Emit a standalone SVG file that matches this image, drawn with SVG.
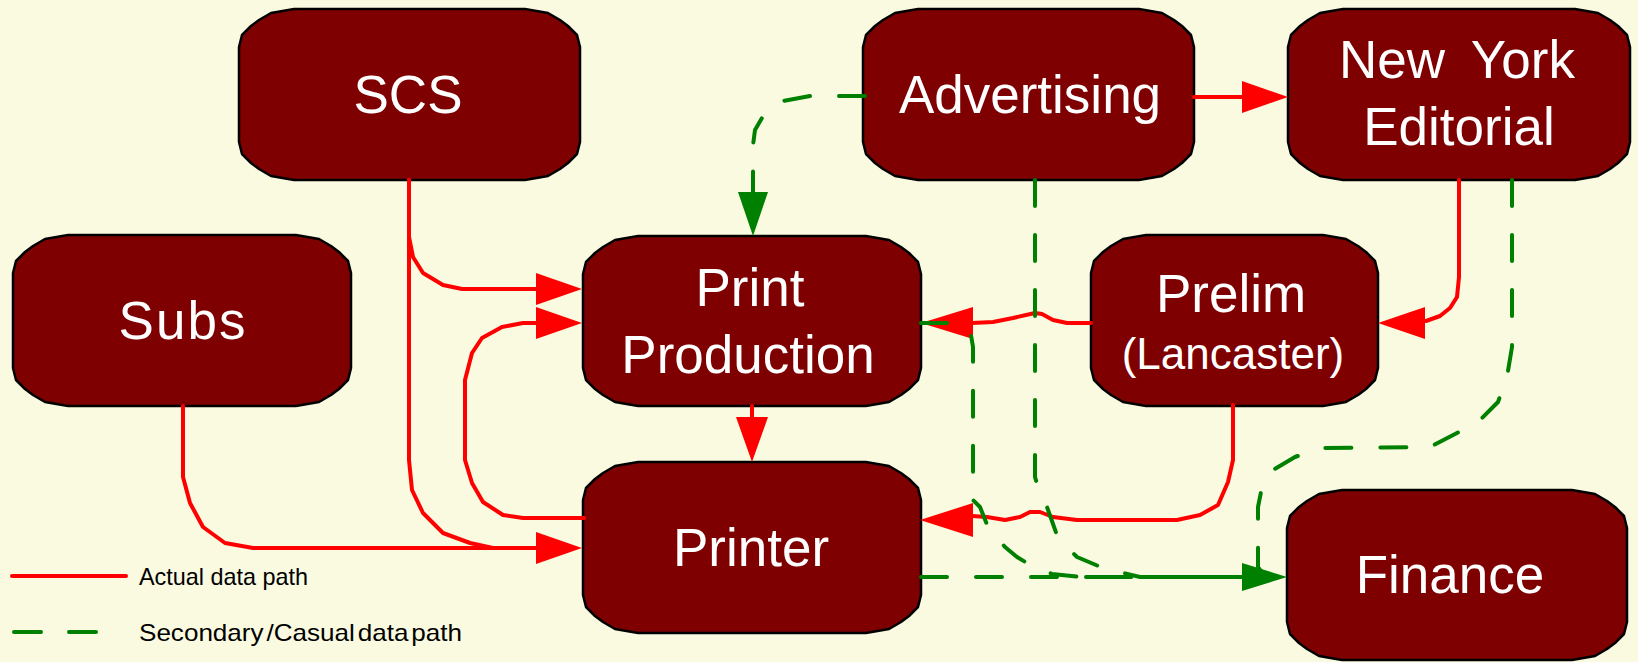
<svg xmlns="http://www.w3.org/2000/svg" width="1638" height="662" viewBox="0 0 1638 662">
<style>
.node{fill:#7f0000;stroke:#000;stroke-width:2.5;stroke-linejoin:round}
.lbl{fill:#fff;font-family:"Liberation Sans",Arial,sans-serif;font-size:53px;text-anchor:middle}
.sub{font-size:44px}
.red{fill:none;stroke:#ff0000;stroke-width:4;stroke-linejoin:round;stroke-linecap:round}
.grn{fill:none;stroke:#008000;stroke-width:4;stroke-linejoin:round;stroke-linecap:round;stroke-dasharray:26 29}
.ar{fill:#ff0000}
.ag{fill:#008000}
.leg{fill:#000;font-family:"Liberation Sans",Arial,sans-serif;font-size:24px}
</style>
<rect width="1638" height="662" fill="#fafae1"/>
<g id="SCS"><path class="node" d="M239,47 l3,-12 l9,-9 l8,-6 l12,-7 l23,-4 h231 l23,4 l12,7 l8,6 l9,9 l3,12 v95 l-3,12 l-9,9 l-8,6 l-12,7 l-23,4 h-231 l-23,-4 l-12,-7 l-8,-6 l-9,-9 l-3,-12 z"/><text class="lbl" x="408" y="113">SCS</text></g>
<g id="Advertising"><path class="node" d="M863,47 l3,-12 l9,-9 l8,-6 l12,-7 l23,-4 h221 l23,4 l12,7 l8,6 l9,9 l3,12 v95 l-3,12 l-9,9 l-8,6 l-12,7 l-23,4 h-221 l-23,-4 l-12,-7 l-8,-6 l-9,-9 l-3,-12 z"/><text class="lbl" x="1030" y="113">Advertising</text></g>
<g id="NewYorkEditorial"><path class="node" d="M1288,47 l3,-12 l9,-9 l8,-6 l12,-7 l23,-4 h232 l23,4 l12,7 l8,6 l9,9 l3,12 v95 l-3,12 l-9,9 l-8,6 l-12,7 l-23,4 h-232 l-23,-4 l-12,-7 l-8,-6 l-9,-9 l-3,-12 z"/><text class="lbl" x="1457" y="78" word-spacing="12">New York</text><text class="lbl" x="1459" y="145">Editorial</text></g>
<g id="Subs"><path class="node" d="M13,273 l3,-12 l9,-9 l8,-6 l12,-7 l23,-4 h228 l23,4 l12,7 l8,6 l9,9 l3,12 v95 l-3,12 l-9,9 l-8,6 l-12,7 l-23,4 h-228 l-23,-4 l-12,-7 l-8,-6 l-9,-9 l-3,-12 z"/><text class="lbl" x="183" y="339" letter-spacing="2">Subs</text></g>
<g id="PrintProduction"><path class="node" d="M583,274 l3,-12 l9,-9 l8,-6 l12,-7 l23,-4 h228 l23,4 l12,7 l8,6 l9,9 l3,12 v94 l-3,12 l-9,9 l-8,6 l-12,7 l-23,4 h-228 l-23,-4 l-12,-7 l-8,-6 l-9,-9 l-3,-12 z"/><text class="lbl" x="750" y="306">Print</text><text class="lbl" x="748" y="373">Production</text></g>
<g id="Prelim"><path class="node" d="M1091,273 l3,-12 l9,-9 l8,-6 l12,-7 l23,-4 h177 l23,4 l12,7 l8,6 l9,9 l3,12 v95 l-3,12 l-9,9 l-8,6 l-12,7 l-23,4 h-177 l-23,-4 l-12,-7 l-8,-6 l-9,-9 l-3,-12 z"/><text class="lbl" x="1231" y="312">Prelim</text><text class="lbl sub" x="1233" y="369">(Lancaster)</text></g>
<g id="Printer"><path class="node" d="M583,500 l3,-12 l9,-9 l8,-6 l12,-7 l23,-4 h228 l23,4 l12,7 l8,6 l9,9 l3,12 v95 l-3,12 l-9,9 l-8,6 l-12,7 l-23,4 h-228 l-23,-4 l-12,-7 l-8,-6 l-9,-9 l-3,-12 z"/><text class="lbl" x="751" y="566">Printer</text></g>
<g id="Finance"><path class="node" d="M1287,528 l3,-12 l9,-9 l8,-6 l12,-7 l23,-4 h230 l23,4 l12,7 l8,6 l9,9 l3,12 v94 l-3,12 l-9,9 l-8,6 l-12,7 l-23,4 h-230 l-23,-4 l-12,-7 l-8,-6 l-9,-9 l-3,-12 z"/><text class="lbl" x="1450" y="593">Finance</text></g>
<g id="connectors">
<path class="red" d="M409,180 L409,237 L413,257 L423,273 L443,285 L462,289 L537,289"/>
<path class="red" d="M409,180 L409,460 L412,490 L423,513 L443,533 L470,543 L493,548 L537,548"/>
<path class="red" d="M183,406 L183,477 L190,503 L203,527 L225,543 L253,548 L537,548"/>
<path class="red" d="M584,518 L523,518 L503,515 L483,502 L472,483 L465,460 L465,380 L472,353 L482,338 L502,327 L523,323 L537,323"/>
<path class="red" d="M752,406 L752,419"/>
<path class="red" d="M1194,97 L1243,97"/>
<path class="red" d="M1459,180 L1459,277 L1457,297 L1450,308 L1440,316 L1426,321"/>
<path class="red" d="M1091,323 L1067,323 L1053,320 L1042,314 L1035,313 L1013,318 L993,322 L972,323"/>
<path class="red" d="M1233,405 L1233,460 L1228,482 L1218,505 L1200,515 L1177,520 L1077,520 L1053,517 L1040,512 L1030,512 L1020,517 L1005,520 L987,517 L972,516"/>
<polygon class="ar" points="582,289 536,273 536,305"/>
<polygon class="ar" points="582,323 536,307 536,339"/>
<polygon class="ar" points="582,548 536,532 536,564"/>
<polygon class="ar" points="752,462 736,417 768,417"/>
<polygon class="ar" points="1288,97 1242,81 1242,113"/>
<polygon class="ar" points="1378,323 1425,307 1425,339"/>
<polygon class="ar" points="921,323 973,307 973,339"/>
<polygon class="ar" points="920,520 973,503 973,537"/>
<path class="grn" d="M865,96 L810,96 L783,101 L770,110 L762,118 L755,130 L753,145 L753,193"/>
<path class="grn" d="M921,323 L950,323 L965,328 L971,335 L973,347 L973,500 L980,507 L988,527 L1005,547 L1017,557 L1027,563 L1052,574 L1080,577 L1242,577"/>
<path class="grn" d="M1035,180 L1035,477 L1038,487 L1047,507 L1058,538 L1077,557 L1103,568 L1140,577 L1242,577"/>
<path class="grn" d="M921,577 L1242,577"/>
<path class="grn" d="M1512,180 L1512,347 L1507,377 L1498,402 L1478,422 L1457,433 L1430,447 L1320,448 L1295,457 L1273,470 L1262,487 L1258,507 L1258,567 L1263,574"/>
<polygon class="ag" points="753,236 738,192 768,192"/>
<polygon class="ag" points="1287,577 1242,563 1242,591"/>
</g>
<g id="legend">
<path class="red" d="M12,576 L126,576"/>
<text class="leg" x="139" y="585" textLength="169" lengthAdjust="spacingAndGlyphs">Actual data path</text>
<path class="grn" d="M14,632 L96,632" style="stroke-dasharray:27 28"/>
<text class="leg" x="139" y="641" textLength="323" lengthAdjust="spacingAndGlyphs" word-spacing="-4">Secondary /Casual data path</text>
</g>
</svg>
